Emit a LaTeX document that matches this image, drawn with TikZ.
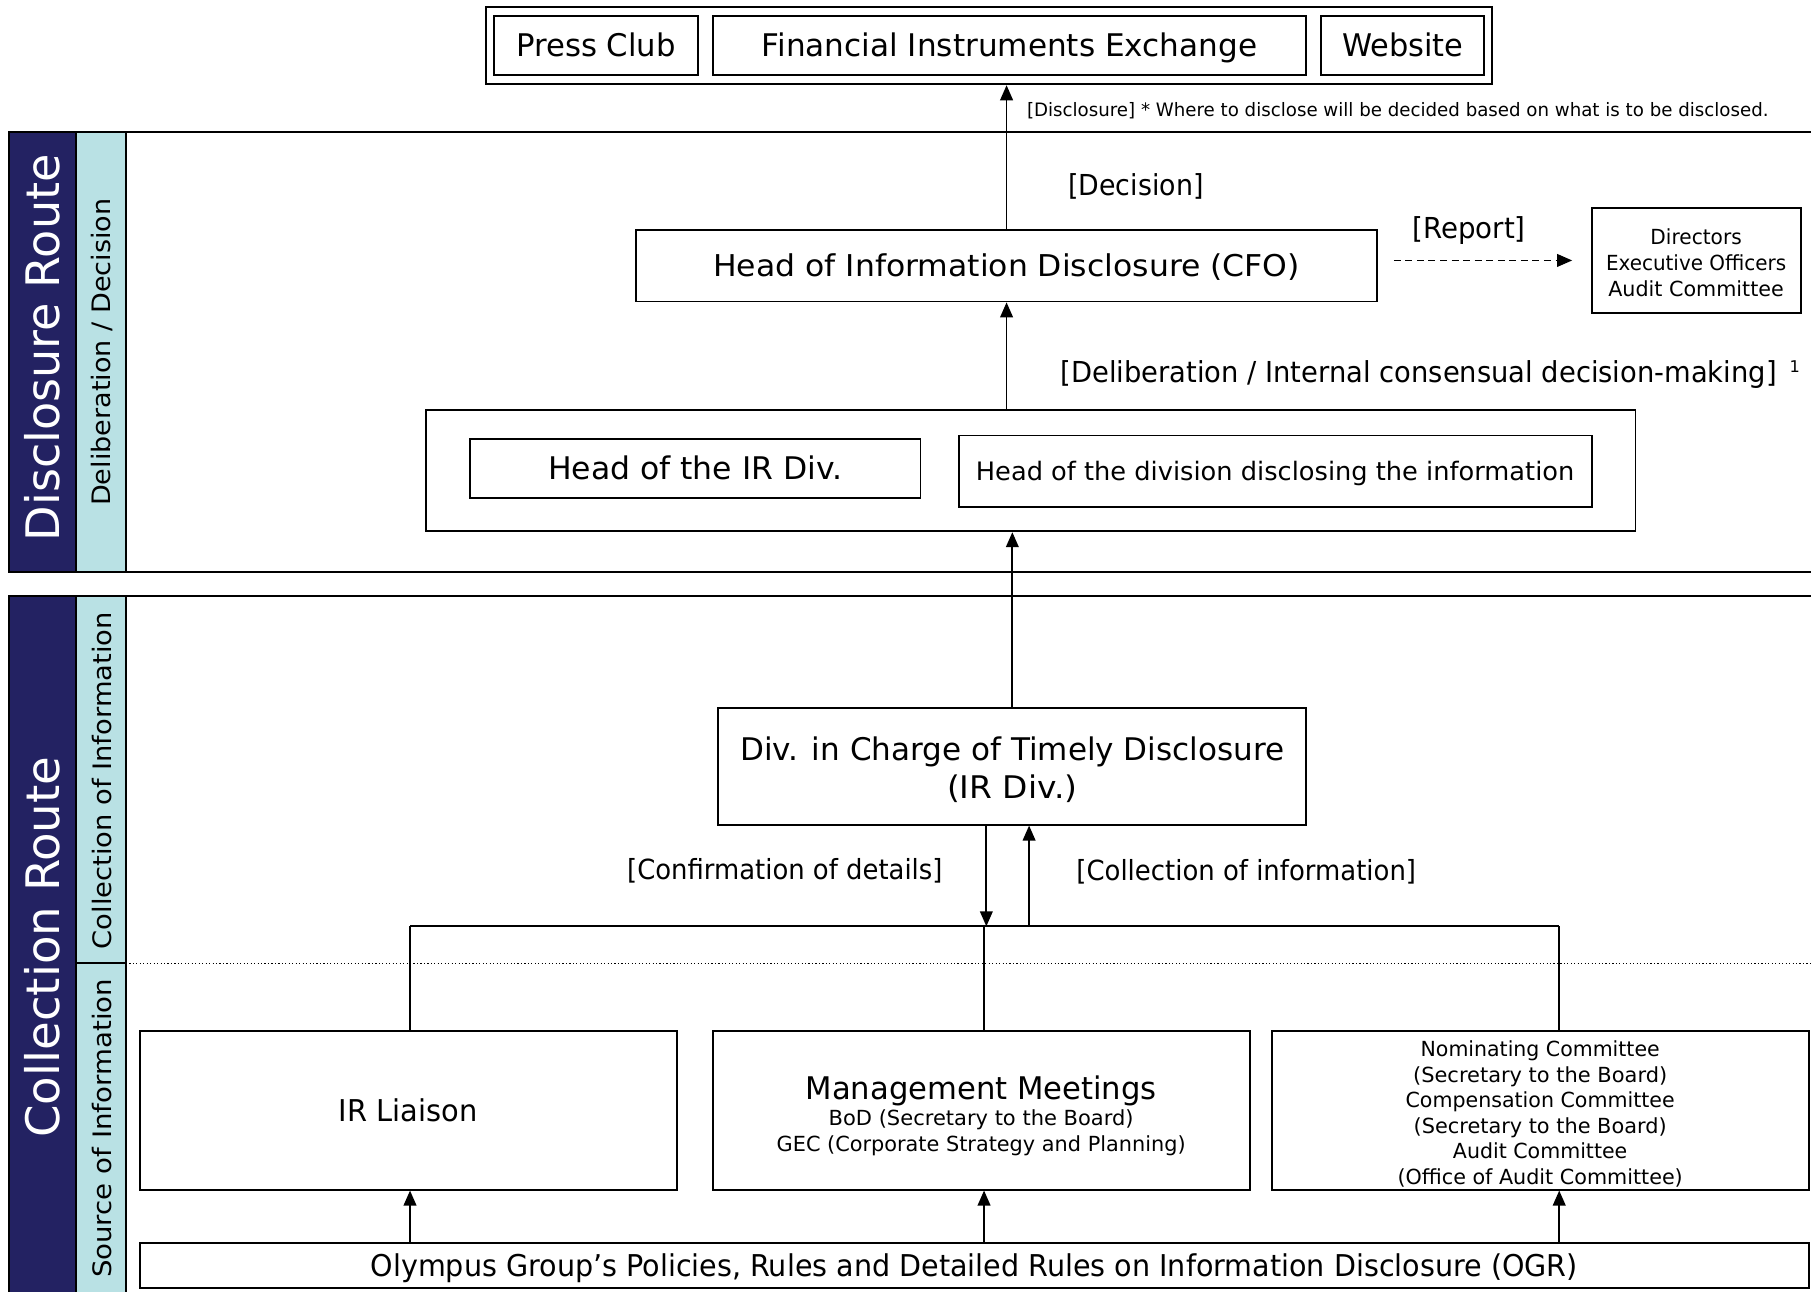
\documentclass[tikz,border=0pt]{standalone}
\usepackage{fontspec}
\setmainfont{DejaVu Sans}
\usepackage{graphicx}
\usetikzlibrary{arrows.meta}
\newcommand\fitw[2]{\resizebox{#1pt}{\height}{#2}}
\definecolor{navyband}{HTML}{232262}
\definecolor{cyanband}{HTML}{B9E1E4}
\begin{document}
\begin{tikzpicture}[x=1pt,y=-1pt,
  box/.style={draw,line width=1.6pt,inner sep=0pt,align=center},
  arr/.style={line width=1.5pt,-{Triangle[length=13pt,width=11pt]}},
  ln/.style={line width=1.5pt},
  lbl/.style={inner sep=0pt,align=center},
  fs/.style={font=\fontsize{#1}{#1}\selectfont},
  cap/.style={text height=#1,text depth=0pt},
]
\useasboundingbox (0,0) rectangle (1568,1118.6);
\fill[white] (0,0) rectangle (1568,1118.6);

% ---------- bands ----------
\fill[navyband] (8,114) rectangle (66,495);
\fill[cyanband] (66,114) rectangle (109,495);
\draw[ln] (8,114) rectangle (66,495);
\draw[ln] (66,114) rectangle (109,495);
\draw[ln] (109,114) -- (1568,114);
\draw[ln] (109,495) -- (1568,495);

\fill[navyband] (8,516) rectangle (66,1125);
\fill[cyanband] (66,516) rectangle (109,1125);
\draw[ln] (8,1125) -- (8,516) -- (66,516) -- (66,1125);
\draw[ln] (66,516) -- (109,516) -- (109,1125);
\draw[ln] (66,834) -- (109,834);
\draw[ln] (109,516) -- (1568,516);
\draw[line width=1pt,dotted] (109,834) -- (1568,834);

\node[lbl,rotate=90,text=white,fs=40] (discroute) at (37,301) {\fitw{335}{Disclosure Route}};
\node[lbl,rotate=90,fs=22] (delibdec) at (88,305) {\fitw{266}{Deliberation / Decision}};
\node[lbl,rotate=90,text=white,fs=40] (collroute) at (37,820) {\fitw{330}{Collection Route}};
\node[lbl,rotate=90,fs=22] (collinfo) at (88,676) {\fitw{292}{Collection of Information}};
\node[lbl,rotate=90,fs=22] (srcinfo) at (88,977) {\fitw{259}{Source of Information}};

% ---------- destinations ----------
\node[box,minimum width=871pt,minimum height=67pt] (dest) at (856.5,39.5) {};
\node[box,minimum width=176pt,minimum height=51pt,fs=27,cap=19.7pt] (press) at (516,39.5) {\fitw{138}{Press Club}};
\node[box,minimum width=514pt,minimum height=51pt,fs=27,cap=19.7pt] (fie) at (874,39.5) {\fitw{429}{Financial Instruments Exchange}};
\node[box,minimum width=141pt,minimum height=51pt,fs=27,cap=19.7pt] (web) at (1214.5,39.5) {\fitw{105}{Website}};

\node[lbl,anchor=west,fs=16,cap=11.7pt] (note) at (889,95) {\fitw{642}{[Disclosure] * Where to disclose will be decided based on what is to be disclosed.}};

% ---------- deliberation / decision ----------
\node[box,minimum width=641pt,minimum height=62pt,fs=26,cap=19pt] (cfo) at (871.5,230) {\fitw{508}{Head of Information Disclosure (CFO)}};
\node[box,minimum width=181pt,minimum height=91pt] (dir) at (1468.5,225.5) {};
\node[lbl,font=\fontsize{18}{22.5}\selectfont] (dirtxt) at (1468.5,227.5)
  {\fitw{79}{Directors}\\\fitw{156}{Executive Officers}\\\fitw{152}{Audit Committee}};
\node[lbl,fs=25,cap=18.2pt] (decision) at (983.5,160) {\fitw{117}{[Decision]}};
\node[lbl,fs=25,cap=18.2pt] (report) at (1272,197) {\fitw{98}{[Report]}};
\node[lbl,anchor=west,fs=25,cap=18.2pt] (dlbl) at (918,322) {\fitw{620}{[Deliberation / Internal consensual decision-making]}};
\node[lbl,fs=14] (fn) at (1554,317) {1};

\node[box,minimum width=1047pt,minimum height=105pt] (delib) at (892.5,407.5) {};
\node[box,minimum width=390pt,minimum height=51pt,fs=27,cap=19.7pt] (irhead) at (602,405.5) {\fitw{255}{Head of the IR Div.}};
\node[box,minimum width=548pt,minimum height=62pt,fs=22,cap=16pt] (divhead) at (1104,408) {\fitw{518}{Head of the division disclosing the information}};

% ---------- collection ----------
\node[box,minimum width=509pt,minimum height=101pt] (timely) at (876.5,663.5) {};
\node[lbl,font=\fontsize{27}{33}\selectfont] (timelytxt) at (876.5,666.5)
  {\fitw{471}{Div. in Charge of Timely Disclosure}\\\fitw{113}{(IR Div.)}};
\node[lbl,fs=24,cap=17.5pt] (conf) at (679.5,753) {\fitw{273}{[Confirmation of details]}};
\node[lbl,fs=24,cap=17.5pt] (coll) at (1079,754) {\fitw{294}{[Collection of information]}};

\node[box,minimum width=465pt,minimum height=137pt,fs=26,cap=19pt] (liaison) at (353.5,961.5) {\fitw{120}{IR Liaison}};
\node[box,minimum width=465pt,minimum height=137pt] (mgmt) at (849.5,961.5) {};
\node[lbl,font=\fontsize{18}{22}\selectfont] (mgmttxt) at (849.5,966)
  {{\fontsize{27}{27}\selectfont\fitw{304}{Management Meetings}}\\[1pt]\fitw{264}{BoD (Secretary to the Board)}\\\fitw{354}{GEC (Corporate Strategy and Planning)}};
\node[box,minimum width=465pt,minimum height=137pt] (comm) at (1333.5,961.5) {};
\node[lbl,font=\fontsize{18}{22.2}\selectfont] (commtxt) at (1333.5,964.5)
  {\fitw{207}{Nominating Committee}\\\fitw{220}{(Secretary to the Board)}\\\fitw{233}{Compensation Committee}\\\fitw{219}{(Secretary to the Board)}\\\fitw{151}{Audit Committee}\\\fitw{247}{(Office of Audit Committee)}};
\node[box,minimum width=1445pt,minimum height=39pt,fs=26,cap=19pt] (ogr) at (843.5,1095.5) {\fitw{1045}{Olympus Group’s Policies, Rules and Detailed Rules on Information Disclosure (OGR)}};

% ---------- connectors ----------
\draw[arr] (cfo.north) -- (cfo.north |- dest.south);
\draw[arr] (cfo.south |- delib.north) -- (cfo.south);
\draw[arr,dash pattern=on 6pt off 4pt,line width=1.3pt] ([xshift=14pt]cfo.east |- dir.west) -- ([xshift=-16pt]dir.west);
\draw[arr] (timely.north) -- (timely.north |- delib.south);

\coordinate (busL) at (355,802);
\coordinate (busR) at (1350,802);
\coordinate (busM) at (852,802);
\coordinate (dn) at (854,802);
\coordinate (up) at (891,802);
\draw[ln] (busL) -- (busR);
\draw[ln] (busL) -- (busL |- liaison.north);
\draw[ln] (busM) -- (busM |- mgmt.north);
\draw[ln] (busR) -- (busR |- comm.north);
\draw[arr] (dn |- timely.south) -- (dn);
\draw[arr] (up) -- (up |- timely.south);

\draw[arr] (ogr.north -| busL) -- (liaison.south -| busL);
\draw[arr] (ogr.north -| busM) -- (mgmt.south -| busM);
\draw[arr] (ogr.north -| busR) -- (comm.south -| busR);
\end{tikzpicture}
\end{document}
